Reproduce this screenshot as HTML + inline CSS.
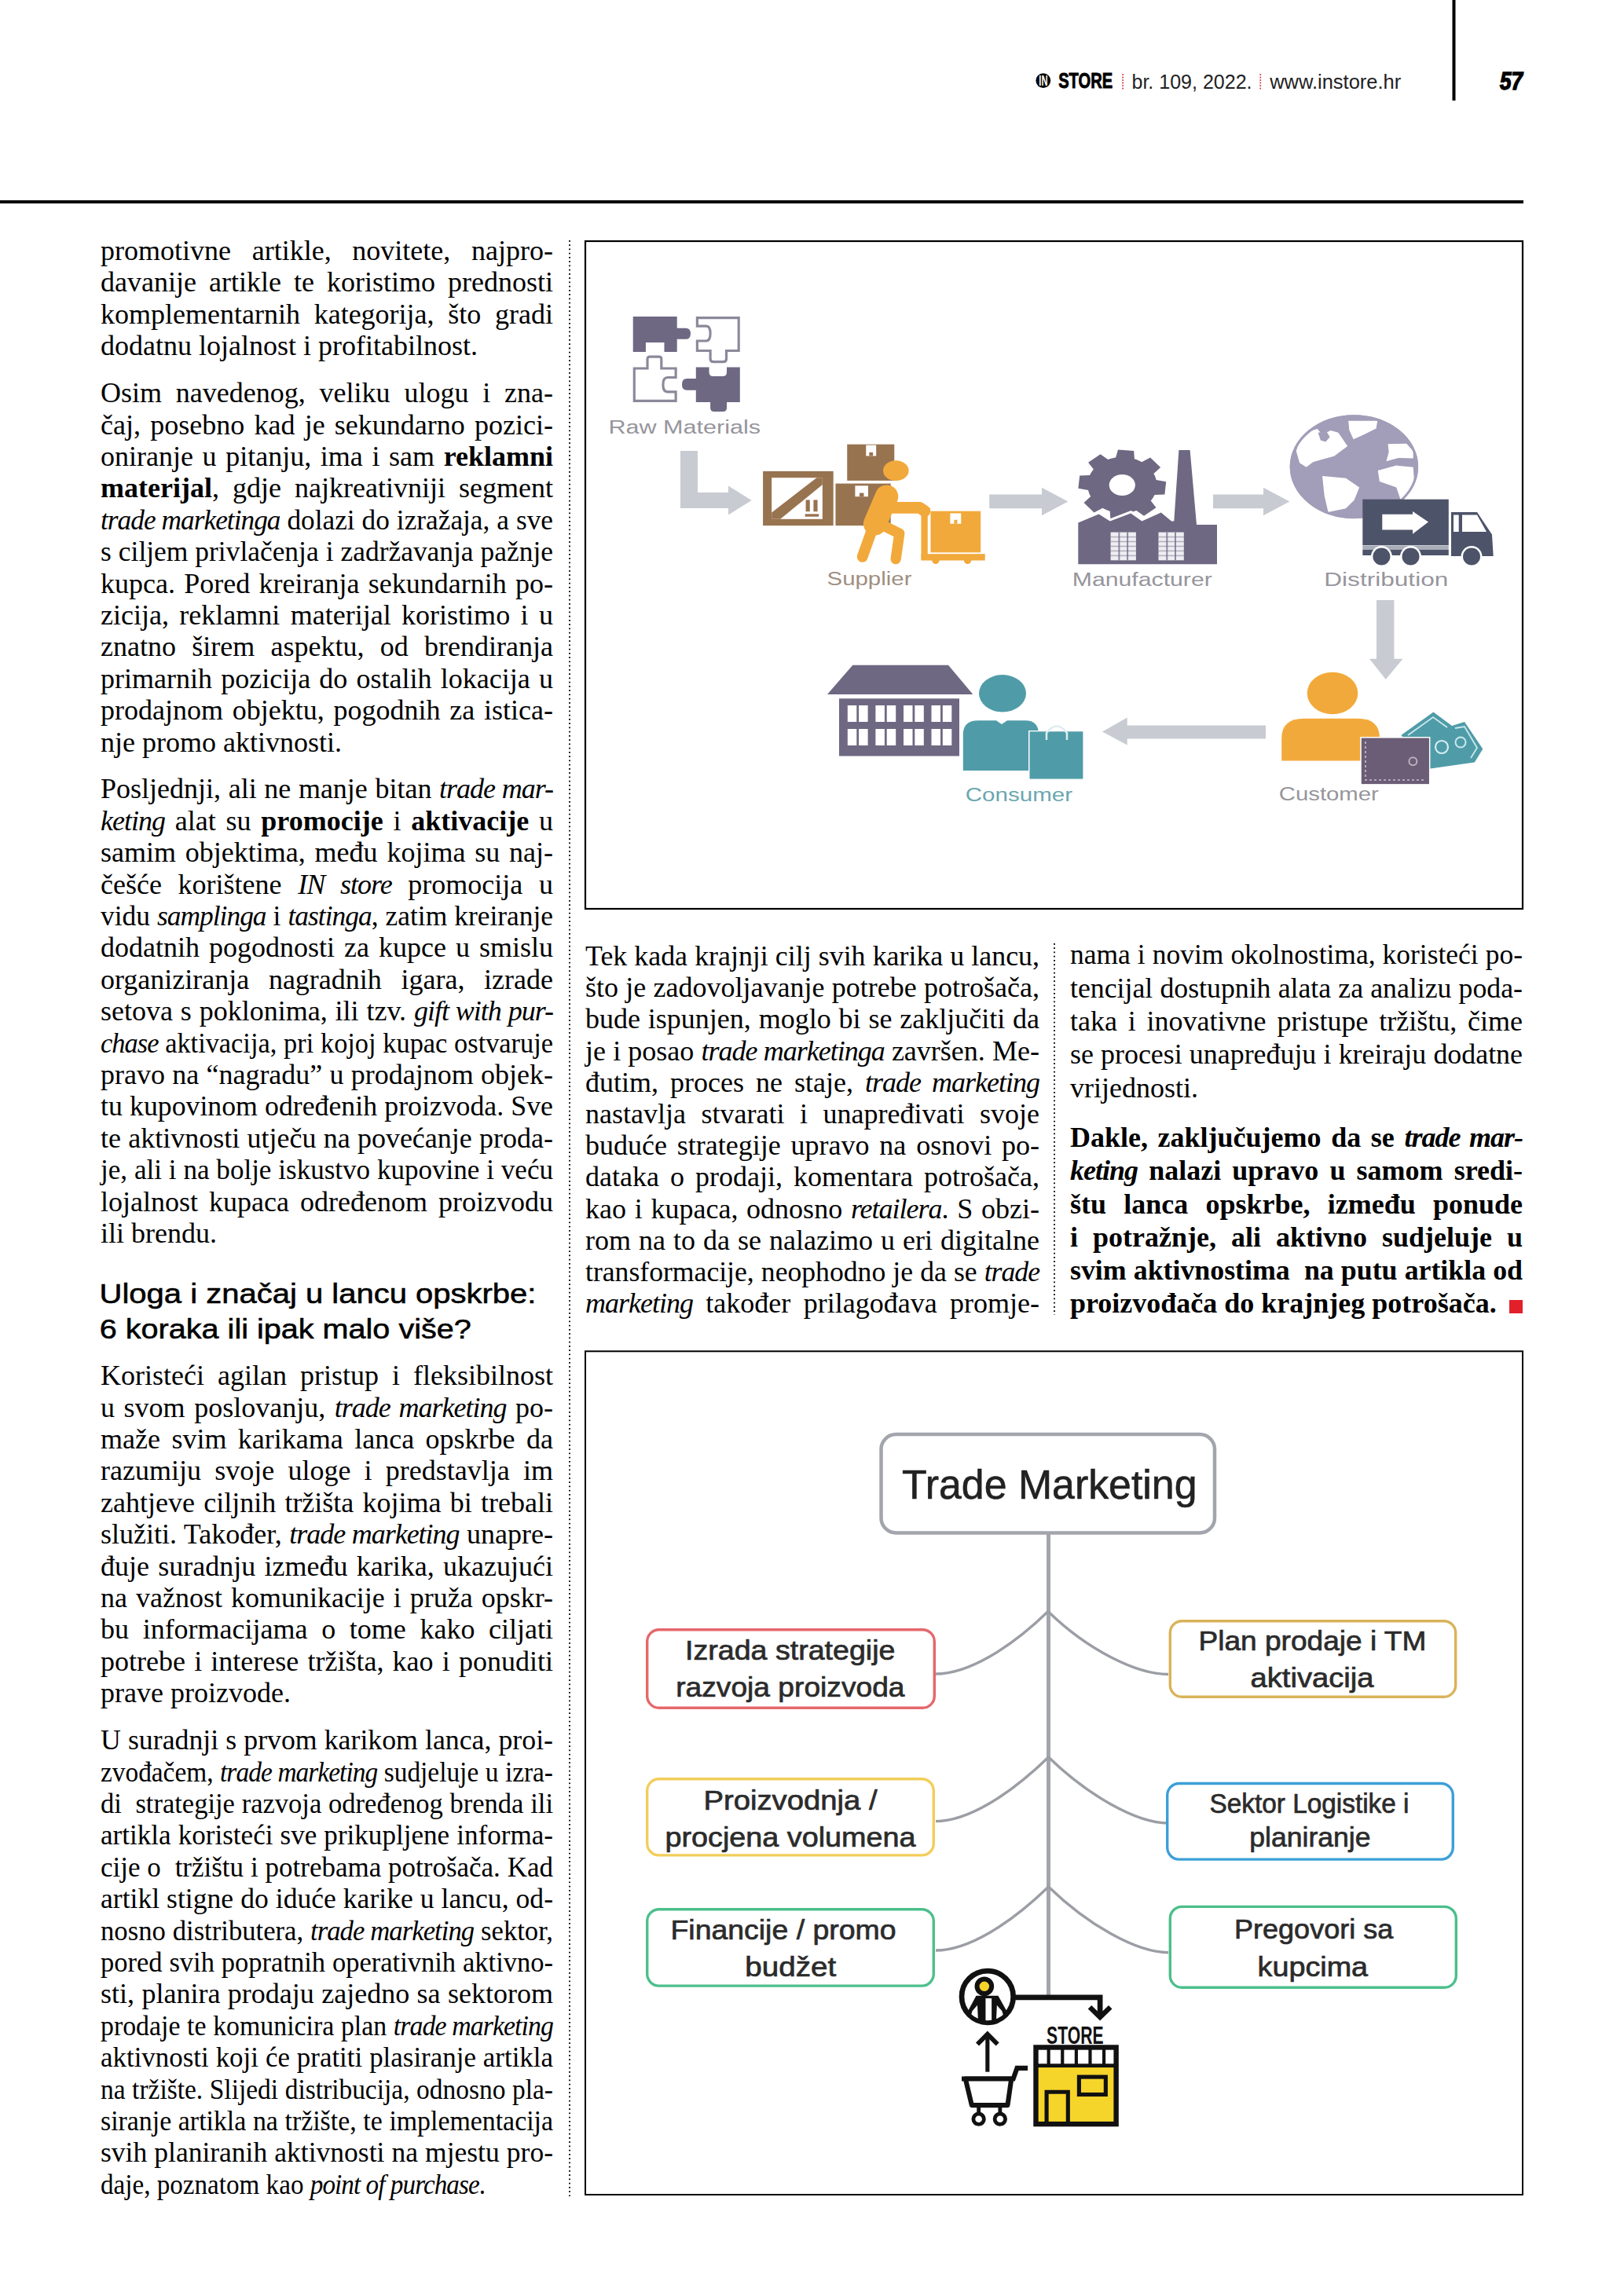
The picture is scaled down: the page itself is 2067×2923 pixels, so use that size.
<!DOCTYPE html>
<html><head><meta charset="utf-8"><title>page</title><style>
*{margin:0;padding:0;box-sizing:border-box}
html,body{width:2067px;height:2923px;background:#fff;overflow:hidden}
body{position:relative;font-family:"Liberation Serif",serif;color:#000}
.ln{position:absolute;white-space:nowrap;font-size:36px;text-align:justify;text-align-last:justify}
.ln.l{text-align:left;text-align-last:left}
.ln b{font-weight:bold}
.ln i{font-style:italic;letter-spacing:-1px}
.bold{font-weight:bold}
.h2{position:absolute;left:128px;font-family:"Liberation Sans",sans-serif;font-size:35px;white-space:nowrap;-webkit-text-stroke:0.5px #000;letter-spacing:1.6px}
.dots{position:absolute;width:2px;background-image:linear-gradient(to bottom,#111 0,#111 2px,transparent 2px);background-size:2px 5.265px}
svg{position:absolute;left:0;top:0}
</style></head>
<body>
<svg width="2067" height="2923" viewBox="0 0 2067 2923">
<rect x="1848.5" y="0" width="4" height="128" fill="#000"/>
<rect x="0" y="255" width="1939" height="4" fill="#000"/>
<circle cx="1327.8" cy="102.6" r="9.4" fill="#000"/>
<text x="1322.3" y="109.2" font-family="Liberation Sans" font-size="17.5" font-weight="bold" fill="#fff" textLength="11.2" lengthAdjust="spacingAndGlyphs" >IN</text>
<text x="1347.2" y="112.4" font-family="Liberation Sans" font-size="27" font-weight="bold" fill="#000" textLength="69" lengthAdjust="spacingAndGlyphs" stroke="#000" stroke-width="0.9">STORE</text>
<rect x="1428.3" y="94.2" width="1.7" height="1.7" fill="#d42a2a"/>
<rect x="1603.4" y="94.2" width="1.7" height="1.7" fill="#d42a2a"/>
<rect x="1428.3" y="97.7" width="1.7" height="1.7" fill="#d42a2a"/>
<rect x="1603.4" y="97.7" width="1.7" height="1.7" fill="#d42a2a"/>
<rect x="1428.3" y="101.2" width="1.7" height="1.7" fill="#d42a2a"/>
<rect x="1603.4" y="101.2" width="1.7" height="1.7" fill="#d42a2a"/>
<rect x="1428.3" y="104.7" width="1.7" height="1.7" fill="#d42a2a"/>
<rect x="1603.4" y="104.7" width="1.7" height="1.7" fill="#d42a2a"/>
<rect x="1428.3" y="108.2" width="1.7" height="1.7" fill="#d42a2a"/>
<rect x="1603.4" y="108.2" width="1.7" height="1.7" fill="#d42a2a"/>
<rect x="1428.3" y="111.7" width="1.7" height="1.7" fill="#d42a2a"/>
<rect x="1603.4" y="111.7" width="1.7" height="1.7" fill="#d42a2a"/>
<text x="1440.5" y="113.1" font-family="Liberation Sans" font-size="25" font-weight="normal" fill="#222" textLength="153" lengthAdjust="spacingAndGlyphs" >br. 109, 2022.</text>
<text x="1616.2" y="113.1" font-family="Liberation Sans" font-size="25" font-weight="normal" fill="#222" textLength="167" lengthAdjust="spacingAndGlyphs" >www.instore.hr</text>
<text x="1909" y="114.3" font-family="Liberation Sans" font-size="30.5" font-weight="bold" fill="#000" textLength="29" lengthAdjust="spacingAndGlyphs" font-style="italic" stroke="#000" stroke-width="1.4">57</text>
<rect x="745" y="307" width="1193" height="850" fill="none" stroke="#000" stroke-width="2.2"/>
<g transform="translate(790,390) scale(0.10468)"><path fill="#6e6882" d="M150,125 H685 V265 H790 Q850,265 850,332 Q850,400 790,400 H685 V555 H530 V440 H305 V555 H150 Z"/><path fill="none" stroke="#8c889a" stroke-width="30" d="M930,140 H1435 V540 H1285 V640 Q1285,675 1245,675 H1130 Q1090,675 1090,640 V540 H930 V420 H1040 Q1090,420 1090,330 Q1090,240 1040,240 H930 Z"/><path fill="none" stroke="#8c889a" stroke-width="30" d="M165,755 H325 V640 Q325,612 355,612 H465 Q495,612 495,640 V755 H670 V865 H570 Q515,865 515,955 Q515,1040 570,1040 H670 V1150 H165 Z"/><path fill="#6e6882" d="M915,740 H1075 V800 Q1075,850 1125,850 H1240 Q1290,850 1290,800 V740 H1450 V1165 H1290 V1235 Q1290,1280 1245,1280 H1135 Q1090,1280 1090,1235 V1165 H915 V1020 H805 Q745,1020 745,950 Q745,880 805,880 H915 Z"/></g>
<text x="774.5" y="551.5" font-family="Liberation Sans" font-size="23" font-weight="normal" fill="#96959c" textLength="193.5" lengthAdjust="spacingAndGlyphs" >Raw Materials</text>
<path fill="#c8cbd2" d="M866,574 H888 V627 H927 V618.6 L956.6,637 L927,655.6 V647 H866 Z"/>
<g transform="translate(960,550) scale(0.18474)"><rect x="60" y="270" width="485" height="375" fill="#987350"/><rect x="120" y="315" width="350" height="285" fill="#fff"/><polygon fill="#987350" points="120,555 120,600 180,600 470,362 470,315 430,315"/><rect x="355" y="468" width="28" height="80" fill="#987350"/><rect x="408" y="468" width="28" height="80" fill="#987350"/><rect x="350" y="565" width="95" height="18" fill="#987350"/><rect x="560" y="355" width="380" height="290" fill="#987350"/><rect x="695" y="370" width="90" height="75" fill="#fff"/><rect x="725" y="420" width="30" height="25" fill="#987350"/><rect x="640" y="85" width="325" height="250" fill="#987350"/><rect x="770" y="90" width="70" height="75" fill="#fff"/><rect x="792" y="140" width="26" height="25" fill="#987350"/><ellipse cx="976" cy="266" rx="88" ry="70" fill="#f2a93b"/><g stroke="#f2a93b" stroke-linecap="round" stroke-linejoin="round" fill="none"><path d="M912,445 L832,632" stroke-width="160"/><path d="M950,522 L1140,522 L1175,545" stroke-width="80"/><path d="M820,650 L745,860" stroke-width="75"/><path d="M880,640 L1000,700 L975,875" stroke-width="72"/></g><rect x="1150" y="530" width="45" height="350" fill="#f2a93b"/><rect x="1215" y="545" width="345" height="285" fill="#f2a93b"/><rect x="1350" y="560" width="75" height="72" fill="#fff"/><rect x="1377" y="605" width="22" height="27" fill="#f2a93b"/><rect x="1150" y="840" width="440" height="45" fill="#f2a93b"/><circle cx="1250" cy="885" r="25" fill="#f2a93b"/><circle cx="1470" cy="885" r="25" fill="#f2a93b"/></g>
<text x="1052.5" y="745" font-family="Liberation Sans" font-size="23" font-weight="normal" fill="#a08e80" textLength="108" lengthAdjust="spacingAndGlyphs" >Supplier</text>
<path fill="#c8cbd2" d="M1259.2,629.6 H1326 V620.7 L1359.4,638.4 L1326,656.2 V647.3 H1259.2 Z"/>
<path fill="#6e6882" d="M1412.6,584.3 L1415.1,583.6 L1417.6,583.1 L1420.1,582.6 L1423.0,572.5 L1443.2,573.9 L1443.9,584.3 L1446.3,585.1 L1448.6,586.0 L1450.9,587.0 L1453.1,588.2 L1464.1,582.6 L1477.1,595.1 L1468.4,602.9 L1469.4,604.8 L1470.3,606.8 L1471.0,608.9 L1471.6,610.9 L1484.2,613.2 L1482.4,629.5 L1469.5,630.0 L1468.5,632.0 L1467.3,633.9 L1466.1,635.7 L1464.7,637.5 L1471.5,646.3 L1456.0,656.8 L1446.4,649.9 L1444.0,650.7 L1441.5,651.4 L1439.0,651.9 L1436.5,652.4 L1433.6,662.5 L1413.4,661.1 L1412.7,650.7 L1410.3,649.9 L1408.0,649.0 L1405.7,648.0 L1403.5,646.8 L1392.5,652.4 L1379.5,639.9 L1388.2,632.1 L1387.2,630.2 L1386.3,628.2 L1385.6,626.1 L1385.0,624.1 L1372.4,621.8 L1374.2,605.5 L1387.1,605.0 L1388.1,603.0 L1389.3,601.1 L1390.5,599.3 L1391.9,597.5 L1385.1,588.7 L1400.6,578.2 L1410.2,585.1 Z"/>
<ellipse cx="1428.3" cy="617.5" rx="16.6" ry="13.6" fill="#fff"/>
<path fill="none" stroke="#fff" stroke-width="6" stroke-linejoin="miter" d="M1372.3,718.3 V665.6 L1398.5,654.4 L1412.8,663.5 L1439.2,653.4 L1453.4,663.5 L1477.8,652.4 L1491,663.5 L1494.3,663.5 L1500.4,573 H1514.6 L1523,668 H1549 V718.3 Z"/>
<path fill="#6e6882" d="M1372.3,718.3 V665.6 L1398.5,654.4 L1412.8,663.5 L1439.2,653.4 L1453.4,663.5 L1477.8,652.4 L1491,663.5 L1494.3,663.5 L1500.4,573 H1514.6 L1523,668 H1549 V718.3 Z"/>
<rect x="1413.6" y="677.6" width="32.3" height="35.7" fill="#eeeef3"/>
<rect x="1423.4" y="677.6" width="2" height="35.7" fill="#6e6882" opacity="0.75"/>
<rect x="1434.1" y="677.6" width="2" height="35.7" fill="#6e6882" opacity="0.75"/>
<rect x="1413.6" y="682.8" width="32.3" height="1.6" fill="#6e6882" opacity="0.45"/>
<rect x="1413.6" y="688.7" width="32.3" height="1.6" fill="#6e6882" opacity="0.45"/>
<rect x="1413.6" y="694.7" width="32.3" height="1.6" fill="#6e6882" opacity="0.45"/>
<rect x="1413.6" y="700.6" width="32.3" height="1.6" fill="#6e6882" opacity="0.45"/>
<rect x="1413.6" y="706.6" width="32.3" height="1.6" fill="#6e6882" opacity="0.45"/>
<rect x="1474.5" y="677.6" width="32.3" height="35.7" fill="#eeeef3"/>
<rect x="1484.3" y="677.6" width="2" height="35.7" fill="#6e6882" opacity="0.75"/>
<rect x="1495.0" y="677.6" width="2" height="35.7" fill="#6e6882" opacity="0.75"/>
<rect x="1474.5" y="682.8" width="32.3" height="1.6" fill="#6e6882" opacity="0.45"/>
<rect x="1474.5" y="688.7" width="32.3" height="1.6" fill="#6e6882" opacity="0.45"/>
<rect x="1474.5" y="694.7" width="32.3" height="1.6" fill="#6e6882" opacity="0.45"/>
<rect x="1474.5" y="700.6" width="32.3" height="1.6" fill="#6e6882" opacity="0.45"/>
<rect x="1474.5" y="706.6" width="32.3" height="1.6" fill="#6e6882" opacity="0.45"/>
<text x="1364.8" y="745.9" font-family="Liberation Sans" font-size="23" font-weight="normal" fill="#96959c" textLength="178" lengthAdjust="spacingAndGlyphs" >Manufacturer</text>
<path fill="#c8cbd2" d="M1544,629.6 H1608 V620.7 L1641.4,638.4 L1608,656.2 V647.3 H1544 Z"/>
<g transform="translate(1638,524) scale(0.10715)"><ellipse cx="797" cy="655" rx="762" ry="615" fill="#a29db8"/><polygon fill="#fff" points="110,470 150,340 260,235 360,205 420,270 520,225 610,250 720,410 560,530 430,565 310,600 230,660 150,610"/><polygon fill="#a29db8" points="370,250 470,235 510,300 460,360 400,340"/><polygon fill="#fff" points="730,110 1075,110 1060,200 900,280 790,330 740,220"/><polygon fill="#fff" points="420,765 700,790 860,900 800,1050 700,1150 490,1195 445,1000"/><polygon fill="#fff" points="1200,385 1420,380 1500,470 1500,555 1330,550 1180,590 1210,480"/><polygon fill="#fff" points="1080,700 1300,640 1500,660 1510,800 1450,1000 1350,1050 1300,900 1100,830"/><ellipse cx="797" cy="655" rx="748" ry="601" fill="none" stroke="#a29db8" stroke-width="30"/></g>
<rect x="1734.3" y="635.7" width="109.5" height="58.6" fill="#4d5369"/>
<path fill="#fff" d="M1759.3,654.7 H1798 V651 L1818,664.6 L1798,679.7 V674.5 H1759.3 Z"/>
<rect x="1734.3" y="695" width="109.5" height="4" fill="#a9adb8"/>
<rect x="1734.3" y="699.5" width="109.5" height="7.5" fill="#4d5369"/>
<path fill="#4d5369" d="M1847,652 H1880 L1899,680.5 L1900.7,708 H1847 Z"/>
<path fill="#fff" d="M1861,655.5 H1880 L1892,677 H1861 Z"/>
<rect x="1850" y="655.5" width="6.7" height="21.5" fill="#fff"/>
<circle cx="1758.4" cy="708.5" r="13.5" fill="#fff"/><circle cx="1758.4" cy="708.5" r="11" fill="#4d5369"/>
<circle cx="1795.5" cy="708.5" r="13.5" fill="#fff"/><circle cx="1795.5" cy="708.5" r="11" fill="#4d5369"/>
<circle cx="1873" cy="708.5" r="13.5" fill="#fff"/><circle cx="1873" cy="708.5" r="11" fill="#4d5369"/>
<text x="1685.3" y="746" font-family="Liberation Sans" font-size="23" font-weight="normal" fill="#96959c" textLength="158" lengthAdjust="spacingAndGlyphs" >Distribution</text>
<path fill="#c8cbd2" d="M1752,764 H1774.4 V838.7 H1785.5 L1763.8,865 L1743,838.7 H1752 Z"/>
<path fill="#6e6882" d="M1085.3,846.8 H1207 L1238.3,883.9 H1053 Z"/>
<rect x="1068" y="889.3" width="153" height="73.2" fill="#6e6882"/>
<rect x="1078.8" y="898" width="11.5" height="21" fill="#fff"/><rect x="1093.1" y="898" width="11.5" height="21" fill="#fff"/>
<rect x="1078.8" y="928" width="11.5" height="21" fill="#fff"/><rect x="1093.1" y="928" width="11.5" height="21" fill="#fff"/>
<rect x="1114.4" y="898" width="11.5" height="21" fill="#fff"/><rect x="1128.7" y="898" width="11.5" height="21" fill="#fff"/>
<rect x="1114.4" y="928" width="11.5" height="21" fill="#fff"/><rect x="1128.7" y="928" width="11.5" height="21" fill="#fff"/>
<rect x="1150" y="898" width="11.5" height="21" fill="#fff"/><rect x="1164.3" y="898" width="11.5" height="21" fill="#fff"/>
<rect x="1150" y="928" width="11.5" height="21" fill="#fff"/><rect x="1164.3" y="928" width="11.5" height="21" fill="#fff"/>
<rect x="1185.5" y="898" width="11.5" height="21" fill="#fff"/><rect x="1199.8" y="898" width="11.5" height="21" fill="#fff"/>
<rect x="1185.5" y="928" width="11.5" height="21" fill="#fff"/><rect x="1199.8" y="928" width="11.5" height="21" fill="#fff"/>
<ellipse cx="1276" cy="882.8" rx="30" ry="23.7" fill="#4f9ca8"/>
<path fill="#4f9ca8" d="M1225.8,981 V935 Q1225.8,917.3 1245,917.3 H1268 L1275,922 L1282,917.3 H1305 Q1322,917.3 1322,935 V981 Z"/>
<rect x="1309" y="930" width="70.5" height="62.5" fill="#fff"/>
<rect x="1310.5" y="931.3" width="67.9" height="60.3" fill="#4f9ca8"/>
<path d="M1332,942 V933 Q1345,916 1358,933 V942" fill="none" stroke="#dfeef0" stroke-width="2.5"/>
<text x="1228.8" y="1019.7" font-family="Liberation Sans" font-size="23" font-weight="normal" fill="#6aa6ae" textLength="136.2" lengthAdjust="spacingAndGlyphs" >Consumer</text>
<path fill="#c8cbd2" d="M1611,923.5 V940.5 H1434.7 V948.5 L1403,931.5 L1434.7,913.5 V923.5 Z"/>
<ellipse cx="1696" cy="882.5" rx="32.3" ry="26.8" fill="#f2a93b"/>
<path fill="#f2a93b" d="M1631.2,968.4 V940 Q1631.2,914.8 1660,914.8 H1728 Q1756,914.8 1756,940 V968.4 Z"/>
<polygon fill="#4f9ca8" points="1783.6,935.8 1824.4,906.5 1848,924 1864,919 1887.3,953.6 1876.8,970.4 1817,979 1800,962"/>
<polyline points="1792,936 1824,913 1842,926" fill="none" stroke="#cbe9ee" stroke-width="1.8"/>
<polyline points="1852,927 1864,925 1880,952 1872,965" fill="none" stroke="#cbe9ee" stroke-width="1.8"/>
<circle cx="1835" cy="951" r="8" fill="none" stroke="#d6eef2" stroke-width="2.2"/><circle cx="1859" cy="945" r="6.5" fill="none" stroke="#cbe9ee" stroke-width="2"/>
<rect x="1732" y="938.8" width="87.7" height="60.1" fill="#6a5d75" stroke="#fff" stroke-width="1.5"/>
<path d="M1738,944 V993 H1812" fill="none" stroke="#c9c0cf" stroke-width="1.6" stroke-dasharray="3 3"/>
<circle cx="1798.4" cy="969.3" r="5" fill="none" stroke="#b9b0c0" stroke-width="2"/>
<text x="1627.8" y="1019.2" font-family="Liberation Sans" font-size="23" font-weight="normal" fill="#96959c" textLength="127" lengthAdjust="spacingAndGlyphs" >Customer</text>
<rect x="745" y="1720.3" width="1193" height="1073.7" fill="none" stroke="#000" stroke-width="2"/>
<rect x="1121.5" y="1826" width="424.5" height="125.5" rx="19" fill="#fff" stroke="#a2a5ac" stroke-width="4.5"/>
<text x="1148" y="1908.3" font-family="Liberation Sans" font-size="51" font-weight="normal" fill="#222" textLength="375.5" lengthAdjust="spacingAndGlyphs" stroke="#222" stroke-width="0.6">Trade Marketing</text>
<rect x="1332" y="1953" width="5" height="587" fill="#a2a5ac"/>
<path d="M1191,2131 C1232,2131 1285,2099 1334.5,2051" fill="none" stroke="#9b9ea4" stroke-width="3.4"/>
<path d="M1191,2318.6 C1232,2318.6 1285,2285 1334.5,2237" fill="none" stroke="#9b9ea4" stroke-width="3.4"/>
<path d="M1191,2483 C1232,2483 1285,2450 1334.5,2402" fill="none" stroke="#9b9ea4" stroke-width="3.4"/>
<path d="M1487,2131.5 C1446,2131.5 1384,2100 1334.5,2052" fill="none" stroke="#9b9ea4" stroke-width="3.4"/>
<path d="M1487,2321 C1446,2321 1384,2285 1334.5,2237" fill="none" stroke="#9b9ea4" stroke-width="3.4"/>
<path d="M1487,2485.7 C1446,2485.7 1384,2450 1334.5,2402" fill="none" stroke="#9b9ea4" stroke-width="3.4"/>
<rect x="823.7" y="2074.7" width="365.6" height="99.6" rx="15" fill="#fff" stroke="#e5676b" stroke-width="3.4"/>
<rect x="823.7" y="2264.7" width="364.6" height="97.1999999999999" rx="15" fill="#fff" stroke="#f2cd5a" stroke-width="3.4"/>
<rect x="823.7" y="2430.7" width="364.6" height="97.40000000000018" rx="15" fill="#fff" stroke="#4cbf8b" stroke-width="3.4"/>
<rect x="1489.3" y="2063.7" width="363.4000000000002" height="96.6" rx="15" fill="#fff" stroke="#d9b35a" stroke-width="3.4"/>
<rect x="1485.7" y="2270.5" width="363.6" height="96.6" rx="15" fill="#fff" stroke="#3c9fd8" stroke-width="3.4"/>
<rect x="1489.3" y="2427.3999999999996" width="364.0000000000001" height="102.90000000000018" rx="15" fill="#fff" stroke="#4cbf8b" stroke-width="3.4"/>
<text x="872.0" y="2112.9" font-family="Liberation Sans" font-size="35" font-weight="normal" fill="#2b2b2b" textLength="267.5" lengthAdjust="spacingAndGlyphs" stroke="#2b2b2b" stroke-width="0.7">Izrada strategije</text>
<text x="860.2" y="2160.3" font-family="Liberation Sans" font-size="35" font-weight="normal" fill="#2b2b2b" textLength="291.3" lengthAdjust="spacingAndGlyphs" stroke="#2b2b2b" stroke-width="0.7">razvoja proizvoda</text>
<text x="895.5" y="2303.7" font-family="Liberation Sans" font-size="35" font-weight="normal" fill="#2b2b2b" textLength="221" lengthAdjust="spacingAndGlyphs" stroke="#2b2b2b" stroke-width="0.7">Proizvodnja /</text>
<text x="846.5" y="2351" font-family="Liberation Sans" font-size="35" font-weight="normal" fill="#2b2b2b" textLength="319" lengthAdjust="spacingAndGlyphs" stroke="#2b2b2b" stroke-width="0.7">procjena volumena</text>
<text x="853.5" y="2468.8" font-family="Liberation Sans" font-size="35" font-weight="normal" fill="#2b2b2b" textLength="287" lengthAdjust="spacingAndGlyphs" stroke="#2b2b2b" stroke-width="0.7">Financije / promo</text>
<text x="948.3" y="2516" font-family="Liberation Sans" font-size="35" font-weight="normal" fill="#2b2b2b" textLength="115.9" lengthAdjust="spacingAndGlyphs" stroke="#2b2b2b" stroke-width="0.7">budžet</text>
<text x="1525.5" y="2101" font-family="Liberation Sans" font-size="35" font-weight="normal" fill="#2b2b2b" textLength="289.8" lengthAdjust="spacingAndGlyphs" stroke="#2b2b2b" stroke-width="0.7">Plan prodaje i TM</text>
<text x="1591.5" y="2148" font-family="Liberation Sans" font-size="35" font-weight="normal" fill="#2b2b2b" textLength="157" lengthAdjust="spacingAndGlyphs" stroke="#2b2b2b" stroke-width="0.7">aktivacija</text>
<text x="1539.5" y="2308.2" font-family="Liberation Sans" font-size="35" font-weight="normal" fill="#2b2b2b" textLength="254" lengthAdjust="spacingAndGlyphs" stroke="#2b2b2b" stroke-width="0.7">Sektor Logistike i</text>
<text x="1590.3" y="2351" font-family="Liberation Sans" font-size="35" font-weight="normal" fill="#2b2b2b" textLength="154.2" lengthAdjust="spacingAndGlyphs" stroke="#2b2b2b" stroke-width="0.7">planiranje</text>
<text x="1571.0" y="2467.8" font-family="Liberation Sans" font-size="35" font-weight="normal" fill="#2b2b2b" textLength="202.3" lengthAdjust="spacingAndGlyphs" stroke="#2b2b2b" stroke-width="0.7">Pregovori sa</text>
<text x="1600.5" y="2516" font-family="Liberation Sans" font-size="35" font-weight="normal" fill="#2b2b2b" textLength="140.6" lengthAdjust="spacingAndGlyphs" stroke="#2b2b2b" stroke-width="0.7">kupcima</text>
<g transform="translate(1200,2500) scale(0.16010)"><circle cx="355" cy="262" r="205" fill="#fff" stroke="#111" stroke-width="42"/><clipPath id="pc"><circle cx="355" cy="262" r="190"/></clipPath><g clip-path="url(#pc)"><path fill="#111" d="M265,255 H440 L560,470 H150 Z"/><rect x="340" y="275" width="48" height="200" fill="#fff"/><polygon fill="#fff" points="235,375 275,330 280,440 215,440"/><polygon fill="#fff" points="470,375 430,330 425,440 490,440"/></g><circle cx="330" cy="180" r="58" fill="#f6d52a" stroke="#111" stroke-width="38"/><path d="M575,268 H1250 V420" fill="none" stroke="#111" stroke-width="42"/><polyline points="1168,345 1250,425 1332,345" fill="none" stroke="#111" stroke-width="40"/><text x="825" y="640" font-family="Liberation Sans" font-size="195" font-weight="bold" fill="#111" textLength="453" lengthAdjust="spacingAndGlyphs" >STORE</text><rect x="740" y="665" width="638" height="610" fill="#f6d52a"/><rect x="740" y="665" width="638" height="145" fill="#fff"/><rect x="828" y="665" width="26" height="145" fill="#111"/><rect x="938" y="665" width="26" height="145" fill="#111"/><rect x="1048" y="665" width="26" height="145" fill="#111"/><rect x="1158" y="665" width="26" height="145" fill="#111"/><rect x="1268" y="665" width="26" height="145" fill="#111"/><rect x="740" y="795" width="638" height="30" fill="#111"/><rect x="740" y="665" width="638" height="610" fill="none" stroke="#111" stroke-width="40"/><path d="M825,1290 V1020 H995 V1290" fill="none" stroke="#111" stroke-width="32"/><rect x="1083" y="900" width="212" height="140" fill="none" stroke="#111" stroke-width="32"/><path d="M355,860 V570" stroke="#111" stroke-width="32" fill="none"/><polyline points="275,640 355,560 435,640" fill="none" stroke="#111" stroke-width="36"/><path d="M150,915 H560 L590,830 H675" fill="none" stroke="#111" stroke-width="38"/><polygon points="180,915 545,915 515,1125 230,1125" fill="#fff" stroke="#111" stroke-width="38" stroke-linejoin="round"/><path d="M285,1125 V1190 M455,1125 V1190" stroke="#111" stroke-width="30"/><circle cx="285" cy="1235" r="42" fill="#fff" stroke="#111" stroke-width="30"/><circle cx="455" cy="1235" r="42" fill="#fff" stroke="#111" stroke-width="30"/></g>
<text x="126.5" y="1659.2" font-family="Liberation Sans" font-size="35" font-weight="normal" fill="#000" textLength="556" lengthAdjust="spacingAndGlyphs" stroke="#000" stroke-width="0.55">Uloga i značaj u lancu opskrbe:</text>
<text x="126.8" y="1703.5" font-family="Liberation Sans" font-size="35" font-weight="normal" fill="#000" textLength="473" lengthAdjust="spacingAndGlyphs" stroke="#000" stroke-width="0.55">6 koraka ili ipak malo više?</text>
<rect x="1921" y="1655" width="17" height="17" fill="#e2202a"/>
</svg>
<div class="ln" style="left:128px;top:298.85px;width:576.00px;height:40.4px;line-height:40.4px">promotivne artikle, novitete, najpro-</div>
<div class="ln" style="left:128px;top:339.25px;width:576.00px;height:40.4px;line-height:40.4px">davanije artikle te koristimo prednosti</div>
<div class="ln" style="left:128px;top:379.65px;width:576.00px;height:40.4px;line-height:40.4px">komplementarnih kategorija, što gradi</div>
<div class="ln l" style="left:128px;top:420.05px;width:576.00px;height:40.4px;line-height:40.4px">dodatnu lojalnost i profitabilnost.</div>
<div class="ln" style="left:128px;top:480.15px;width:576.00px;height:40.4px;line-height:40.4px">Osim navedenog, veliku ulogu i zna-</div>
<div class="ln" style="left:128px;top:520.55px;width:576.00px;height:40.4px;line-height:40.4px">čaj, posebno kad je sekundarno pozici-</div>
<div class="ln" style="left:128px;top:560.95px;width:576.00px;height:40.4px;line-height:40.4px">oniranje u pitanju, ima i sam <b>reklamni</b></div>
<div class="ln" style="left:128px;top:601.35px;width:576.00px;height:40.4px;line-height:40.4px"><b>materijal</b>, gdje najkreativniji segment</div>
<div class="ln" style="left:128px;top:641.75px;width:587.78px;height:40.4px;line-height:40.4px;transform:scaleX(0.97996);transform-origin:0 0"><i>trade marketinga</i> dolazi do izražaja, a sve</div>
<div class="ln" style="left:128px;top:682.15px;width:585.69px;height:40.4px;line-height:40.4px;transform:scaleX(0.98346);transform-origin:0 0">s ciljem privlačenja i zadržavanja pažnje</div>
<div class="ln" style="left:128px;top:722.55px;width:576.00px;height:40.4px;line-height:40.4px">kupca. Pored kreiranja sekundarnih po-</div>
<div class="ln" style="left:128px;top:762.95px;width:576.00px;height:40.4px;line-height:40.4px">zicija, reklamni materijal koristimo i u</div>
<div class="ln" style="left:128px;top:803.35px;width:576.00px;height:40.4px;line-height:40.4px">znatno širem aspektu, od brendiranja</div>
<div class="ln" style="left:128px;top:843.75px;width:576.00px;height:40.4px;line-height:40.4px">primarnih pozicija do ostalih lokacija u</div>
<div class="ln" style="left:128px;top:884.15px;width:576.00px;height:40.4px;line-height:40.4px">prodajnom objektu, pogodnih za istica-</div>
<div class="ln l" style="left:128px;top:924.55px;width:576.00px;height:40.4px;line-height:40.4px">nje promo aktivnosti.</div>
<div class="ln" style="left:128px;top:984.45px;width:576.00px;height:40.4px;line-height:40.4px">Posljednji, ali ne manje bitan <i>trade mar-</i></div>
<div class="ln" style="left:128px;top:1024.85px;width:576.00px;height:40.4px;line-height:40.4px"><i>keting</i> alat su <b>promocije</b> i <b>aktivacije</b> u</div>
<div class="ln" style="left:128px;top:1065.25px;width:576.00px;height:40.4px;line-height:40.4px">samim objektima, među kojima su naj-</div>
<div class="ln" style="left:128px;top:1105.65px;width:576.00px;height:40.4px;line-height:40.4px">češće korištene <i>IN store</i> promocija u</div>
<div class="ln" style="left:128px;top:1146.05px;width:585.95px;height:40.4px;line-height:40.4px;transform:scaleX(0.98301);transform-origin:0 0">vidu <i>samplinga</i> i <i>tastinga</i>, zatim kreiranje</div>
<div class="ln" style="left:128px;top:1186.45px;width:576.00px;height:40.4px;line-height:40.4px">dodatnih pogodnosti za kupce u smislu</div>
<div class="ln" style="left:128px;top:1226.85px;width:576.00px;height:40.4px;line-height:40.4px">organiziranja nagradnih igara, izrade</div>
<div class="ln" style="left:128px;top:1267.25px;width:576.00px;height:40.4px;line-height:40.4px">setova s poklonima, ili tzv. <i>gift with pur-</i></div>
<div class="ln" style="left:128px;top:1307.65px;width:603.81px;height:40.4px;line-height:40.4px;transform:scaleX(0.95394);transform-origin:0 0"><i>chase</i> aktivacija, pri kojoj kupac ostvaruje</div>
<div class="ln" style="left:128px;top:1348.05px;width:576.00px;height:40.4px;line-height:40.4px">pravo na “nagradu” u prodajnom objek-</div>
<div class="ln" style="left:128px;top:1388.45px;width:579.91px;height:40.4px;line-height:40.4px;transform:scaleX(0.99326);transform-origin:0 0">tu kupovinom određenih proizvoda. Sve</div>
<div class="ln" style="left:128px;top:1428.85px;width:576.00px;height:40.4px;line-height:40.4px">te aktivnosti utječu na povećanje proda-</div>
<div class="ln" style="left:128px;top:1469.25px;width:591.89px;height:40.4px;line-height:40.4px;transform:scaleX(0.97315);transform-origin:0 0">je, ali i na bolje iskustvo kupovine i veću</div>
<div class="ln" style="left:128px;top:1509.65px;width:576.00px;height:40.4px;line-height:40.4px">lojalnost kupaca određenom proizvodu</div>
<div class="ln l" style="left:128px;top:1550.05px;width:576.00px;height:40.4px;line-height:40.4px">ili brendu.</div>
<div class="ln" style="left:128px;top:1731.25px;width:576.00px;height:40.4px;line-height:40.4px">Koristeći agilan pristup i fleksibilnost</div>
<div class="ln" style="left:128px;top:1771.65px;width:576.00px;height:40.4px;line-height:40.4px">u svom poslovanju, <i>trade marketing</i> po-</div>
<div class="ln" style="left:128px;top:1812.05px;width:576.00px;height:40.4px;line-height:40.4px">maže svim karikama lanca opskrbe da</div>
<div class="ln" style="left:128px;top:1852.45px;width:576.00px;height:40.4px;line-height:40.4px">razumiju svoje uloge i predstavlja im</div>
<div class="ln" style="left:128px;top:1892.85px;width:576.00px;height:40.4px;line-height:40.4px">zahtjeve ciljnih tržišta kojima bi trebali</div>
<div class="ln" style="left:128px;top:1933.25px;width:576.00px;height:40.4px;line-height:40.4px">služiti. Također, <i>trade marketing</i> unapre-</div>
<div class="ln" style="left:128px;top:1973.65px;width:576.00px;height:40.4px;line-height:40.4px">đuje suradnju između karika, ukazujući</div>
<div class="ln" style="left:128px;top:2014.05px;width:576.00px;height:40.4px;line-height:40.4px">na važnost komunikacije i pruža opskr-</div>
<div class="ln" style="left:128px;top:2054.45px;width:576.00px;height:40.4px;line-height:40.4px">bu informacijama o tome kako ciljati</div>
<div class="ln" style="left:128px;top:2094.85px;width:576.00px;height:40.4px;line-height:40.4px">potrebe i interese tržišta, kao i ponuditi</div>
<div class="ln l" style="left:128px;top:2135.25px;width:576.00px;height:40.4px;line-height:40.4px">prave proizvode.</div>
<div class="ln" style="left:128px;top:2195.25px;width:579.88px;height:40.4px;line-height:40.4px;transform:scaleX(0.99332);transform-origin:0 0">U suradnji s prvom karikom lanca, proi-</div>
<div class="ln" style="left:128px;top:2235.65px;width:621.81px;height:40.4px;line-height:40.4px;transform:scaleX(0.92632);transform-origin:0 0">zvođačem, <i>trade marketing</i> sudjeluje u izra-</div>
<div class="ln" style="left:128px;top:2276.05px;width:600.77px;height:40.4px;line-height:40.4px;transform:scaleX(0.95878);transform-origin:0 0">di&nbsp; strategije razvoja određenog brenda ili</div>
<div class="ln" style="left:128px;top:2316.45px;width:590.81px;height:40.4px;line-height:40.4px;transform:scaleX(0.97493);transform-origin:0 0">artikla koristeći sve prikupljene informa-</div>
<div class="ln" style="left:128px;top:2356.85px;width:592.80px;height:40.4px;line-height:40.4px;transform:scaleX(0.97167);transform-origin:0 0">cije o&nbsp; tržištu i potrebama potrošača. Kad</div>
<div class="ln" style="left:128px;top:2397.25px;width:582.83px;height:40.4px;line-height:40.4px;transform:scaleX(0.98828);transform-origin:0 0">artikl stigne do iduće karike u lancu, od-</div>
<div class="ln" style="left:128px;top:2437.65px;width:598.48px;height:40.4px;line-height:40.4px;transform:scaleX(0.96243);transform-origin:0 0">nosno distributera, <i>trade marketing</i> sektor,</div>
<div class="ln" style="left:128px;top:2478.05px;width:600.88px;height:40.4px;line-height:40.4px;transform:scaleX(0.95860);transform-origin:0 0">pored svih popratnih operativnih aktivno-</div>
<div class="ln" style="left:128px;top:2518.45px;width:576.00px;height:40.4px;line-height:40.4px">sti, planira prodaju zajedno sa sektorom</div>
<div class="ln" style="left:128px;top:2558.85px;width:612.83px;height:40.4px;line-height:40.4px;transform:scaleX(0.93990);transform-origin:0 0">prodaje te komunicira plan <i>trade marketing</i></div>
<div class="ln" style="left:128px;top:2599.25px;width:593.83px;height:40.4px;line-height:40.4px;transform:scaleX(0.96998);transform-origin:0 0">aktivnosti koji će pratiti plasiranje artikla</div>
<div class="ln" style="left:128px;top:2639.65px;width:619.89px;height:40.4px;line-height:40.4px;transform:scaleX(0.92920);transform-origin:0 0">na tržište. Slijedi distribucija, odnosno pla-</div>
<div class="ln" style="left:128px;top:2680.05px;width:612.75px;height:40.4px;line-height:40.4px;transform:scaleX(0.94002);transform-origin:0 0">siranje artikla na tržište, te implementacija</div>
<div class="ln" style="left:128px;top:2720.45px;width:583.92px;height:40.4px;line-height:40.4px;transform:scaleX(0.98643);transform-origin:0 0">svih planiranih aktivnosti na mjestu pro-</div>
<div class="ln l" style="left:128px;top:2760.85px;width:533.56px;height:40.4px;line-height:40.4px;transform:scaleX(0.92008);transform-origin:0 0">daje, poznatom kao <i>point of purchase</i>.</div>
<div class="ln" style="left:745px;top:1197.05px;width:580.30px;height:40.2px;line-height:40.2px;transform:scaleX(0.99604);transform-origin:0 0">Tek kada krajnji cilj svih karika u lancu,</div>
<div class="ln" style="left:745px;top:1237.25px;width:578.00px;height:40.2px;line-height:40.2px">što je zadovoljavanje potrebe potrošača,</div>
<div class="ln" style="left:745px;top:1277.45px;width:578.00px;height:40.2px;line-height:40.2px">bude ispunjen, moglo bi se zaključiti da</div>
<div class="ln" style="left:745px;top:1317.65px;width:578.00px;height:40.2px;line-height:40.2px">je i posao <i>trade marketinga</i> završen. Me-</div>
<div class="ln" style="left:745px;top:1357.85px;width:578.00px;height:40.2px;line-height:40.2px">đutim, proces ne staje, <i>trade marketing</i></div>
<div class="ln" style="left:745px;top:1398.05px;width:578.00px;height:40.2px;line-height:40.2px">nastavlja stvarati i unapređivati svoje</div>
<div class="ln" style="left:745px;top:1438.25px;width:578.00px;height:40.2px;line-height:40.2px">buduće strategije upravo na osnovi po-</div>
<div class="ln" style="left:745px;top:1478.45px;width:578.00px;height:40.2px;line-height:40.2px">dataka o prodaji, komentara potrošača,</div>
<div class="ln" style="left:745px;top:1518.65px;width:578.00px;height:40.2px;line-height:40.2px">kao i kupaca, odnosno <i>retailera</i>. S obzi-</div>
<div class="ln" style="left:745px;top:1558.85px;width:578.00px;height:40.2px;line-height:40.2px">rom na to da se nalazimo u eri digitalne</div>
<div class="ln" style="left:745px;top:1599.05px;width:583.83px;height:40.2px;line-height:40.2px;transform:scaleX(0.99002);transform-origin:0 0">transformacije, neophodno je da se <i>trade</i></div>
<div class="ln" style="left:745px;top:1639.25px;width:578.00px;height:40.2px;line-height:40.2px"><i>marketing</i> također prilagođava promje-</div>
<div class="ln" style="left:1362px;top:1194.25px;width:584.92px;height:42.4px;line-height:42.4px;transform:scaleX(0.98475);transform-origin:0 0">nama i novim okolnostima, koristeći po-</div>
<div class="ln" style="left:1362px;top:1236.65px;width:579.77px;height:42.4px;line-height:42.4px;transform:scaleX(0.99350);transform-origin:0 0">tencijal dostupnih alata za analizu poda-</div>
<div class="ln" style="left:1362px;top:1279.05px;width:576.00px;height:42.4px;line-height:42.4px">taka i inovativne pristupe tržištu, čime</div>
<div class="ln" style="left:1362px;top:1321.45px;width:577.80px;height:42.4px;line-height:42.4px;transform:scaleX(0.99689);transform-origin:0 0">se procesi unapređuju i kreiraju dodatne</div>
<div class="ln l" style="left:1362px;top:1363.85px;width:576.00px;height:42.4px;line-height:42.4px">vrijednosti.</div>
<div class="ln bold" style="left:1362px;top:1427.15px;width:576.00px;height:42.2px;line-height:42.2px">Dakle, zaključujemo da se <i>trade mar-</i></div>
<div class="ln bold" style="left:1362px;top:1469.35px;width:576.00px;height:42.2px;line-height:42.2px"><i>keting</i> nalazi upravo u samom sredi-</div>
<div class="ln bold" style="left:1362px;top:1511.55px;width:576.00px;height:42.2px;line-height:42.2px">štu lanca opskrbe, između ponude</div>
<div class="ln bold" style="left:1362px;top:1553.75px;width:576.00px;height:42.2px;line-height:42.2px">i potražnje, ali aktivno sudjeluje u</div>
<div class="ln bold" style="left:1362px;top:1595.95px;width:579.11px;height:42.2px;line-height:42.2px;transform:scaleX(0.99463);transform-origin:0 0">svim aktivnostima&nbsp; na putu artikla od</div>
<div class="ln l bold" style="left:1362px;top:1638.15px;width:576.00px;height:42.2px;line-height:42.2px">proizvođača do krajnjeg potrošača.</div>
<div class="dots" style="left:724px;top:306px;height:2490px"></div>
<div class="dots" style="left:1341px;top:1201px;height:473px"></div>
</body></html>
